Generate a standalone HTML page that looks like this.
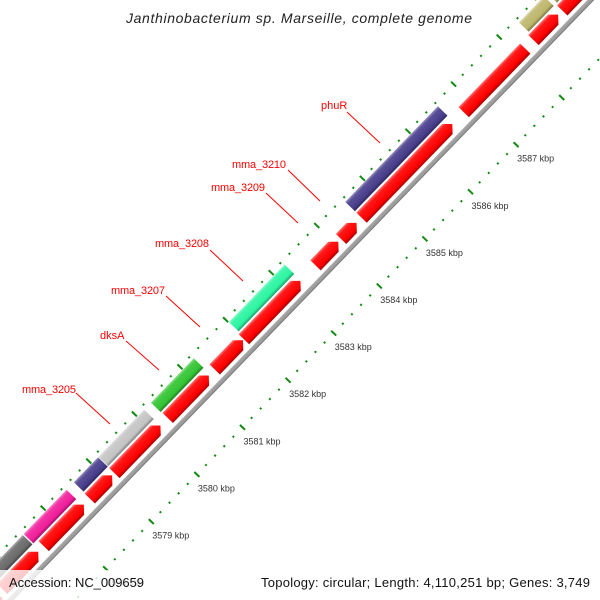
<!DOCTYPE html>
<html>
<head>
<meta charset="utf-8">
<style>
html,body{margin:0;padding:0;background:#fff;width:600px;height:600px;overflow:hidden;}
svg{display:block;font-family:"Liberation Sans",sans-serif;}
</style>
</head>
<body>
<svg id="map" width="600" height="600" viewBox="0 0 600 600" xmlns="http://www.w3.org/2000/svg">
  <defs id="defs"></defs>
  <rect width="600" height="600" fill="#fff"/>
  <g id="ring" transform="translate(379.3,286) rotate(-45.93)"></g>
  <g id="labels" fill="#ff0000" font-size="11">
    <line x1="347" y1="112" x2="380" y2="143" stroke="#ff0000" stroke-width="1"/>
    <text x="321" y="109">phuR</text>
    <line x1="288" y1="170" x2="320" y2="201" stroke="#ff0000" stroke-width="1"/>
    <text x="232" y="168" textLength="54">mma_3210</text>
    <line x1="266" y1="193" x2="298" y2="223" stroke="#ff0000" stroke-width="1"/>
    <text x="211" y="191" textLength="54">mma_3209</text>
    <line x1="210" y1="250" x2="243" y2="281" stroke="#ff0000" stroke-width="1"/>
    <text x="155" y="247" textLength="54">mma_3208</text>
    <line x1="166" y1="296" x2="200" y2="327" stroke="#ff0000" stroke-width="1"/>
    <text x="111" y="294" textLength="54">mma_3207</text>
    <line x1="126" y1="341" x2="159" y2="370" stroke="#ff0000" stroke-width="1"/>
    <text x="100" y="339">dksA</text>
    <line x1="76" y1="393" x2="110" y2="424" stroke="#ff0000" stroke-width="1"/>
    <text x="22" y="393" textLength="54">mma_3205</text>
  </g>
  <text x="299" y="23" text-anchor="middle" font-size="14" font-style="italic" fill="#222" textLength="346">Janthinobacterium sp. Marseille, complete genome</text>
  <rect x="0" y="570" width="150" height="30" fill="#fff" fill-opacity="0.8"/>
  <rect x="254" y="570" width="346" height="30" fill="#fff" fill-opacity="0.8"/>
  <text x="9" y="587" font-size="13" fill="#111" textLength="135">Accession: NC_009659</text>
  <text x="261" y="587" font-size="13" fill="#111" textLength="329">Topology: circular; Length: 4,110,251 bp; Genes: 3,749</text>
</svg>
<script>
// ---- data ----
const redStarts = [3576.68, 3577.59, 3578.60, 3579.14, 3580.31, 3581.34, 3581.98, 3583.55, 3584.11, 3584.56, 3586.80, 3588.33, 3588.96, 3575.8];
const redEnds   = [3577.47, 3578.47, 3579.09, 3580.15, 3581.21, 3581.96, 3583.22, 3584.05, 3584.45, 3586.55, 3588.15, 3588.87, 3590.40, 3576.58];
const redArrow  = [1, 1, 1, 1, 1, 1, 1, 1, 1, 1, 0, 1, 0, 0];
const cogStarts = [3576.00, 3576.73, 3577.51, 3578.61, 3579.15, 3580.30, 3582.01, 3584.56, 3588.37, 3588.99];
const cogEnds   = [3576.70, 3577.49, 3578.45, 3579.14, 3580.15, 3581.24, 3583.23, 3586.59, 3588.92, 3590.40];
const cogColors = ["#4a7fb5", "#6a6a6a", "#f01e9b", "#483d8b", "#c4c4c4", "#33c433", "#2cf5a2", "#483d8b", "#bdb76b", "#bdb76b"];
const tickMin = 3570;
const tickMax = 3592;
const tickLabels = ["3570 kbp","3571 kbp","3572 kbp","3573 kbp","3574 kbp","3575 kbp","3576 kbp","3577 kbp","3578 kbp","3579 kbp","3580 kbp","3581 kbp","3582 kbp","3583 kbp","3584 kbp","3585 kbp","3586 kbp","3587 kbp"];

// ---- axis ----
const NS = "http://www.w3.org/2000/svg";
const ORIGIN_KBP = 3584, PX_PER_KBP = 65.57;
const OX = 379.3, OY = 286, DX = 0.6955, DY = -0.7184;
function uScale(k){ return (k - ORIGIN_KBP) * PX_PER_KBP; }
function toAbs(u, v){ return [OX + DX*u - 0.7184*v, OY + DY*u - 0.6955*v]; }
const ring = document.getElementById('ring');
const defs = document.getElementById('defs');
const RED_V0 = 53, RED_V1 = 67.5, COG_V0 = 69.5, COG_V1 = 83, BB_V0 = 44.5, BB_V1 = 49.5;

function shade(hex, f){
  const n = parseInt(hex.slice(1),16); let r=n>>16,g=(n>>8)&255,b=n&255;
  if(f>=0){ r=r+(255-r)*f; g=g+(255-g)*f; b=b+(255-b)*f; } else { r*=1+f; g*=1+f; b*=1+f; }
  return "rgb("+Math.round(r)+","+Math.round(g)+","+Math.round(b)+")";
}
let gid = 0;
function grad(hex){
  const id = "g" + (gid++);
  const lg = document.createElementNS(NS,'linearGradient');
  lg.setAttribute('id', id); lg.setAttribute('x1','0'); lg.setAttribute('y1','0'); lg.setAttribute('x2','0'); lg.setAttribute('y2','1');
  [[0,shade(hex,0.45)],[0.2,shade(hex,0.1)],[0.75,hex],[1,shade(hex,-0.35)]].forEach(s=>{
    const st = document.createElementNS(NS,'stop');
    st.setAttribute('offset', s[0]); st.setAttribute('stop-color', s[1]); lg.appendChild(st);
  });
  defs.appendChild(lg);
  return "url(#" + id + ")";
}

// backbone
const bb = document.createElementNS(NS,'rect');


bb.setAttribute('x', uScale(tickMin)); bb.setAttribute('y', -BB_V1);
bb.setAttribute('width', uScale(tickMax) - uScale(tickMin)); bb.setAttribute('height', BB_V1 - BB_V0);
bb.setAttribute('fill', grad("#999999"));
ring.appendChild(bb);

// red features
const redFill = grad("#ff0000");
for(let i=0;i<redStarts.length;i++){
  const a = uScale(redStarts[i]), b = uScale(redEnds[i]);
  const y0 = -RED_V1, y1 = -RED_V0, ym = (y0+y1)/2;
  const p = document.createElementNS(NS,'polygon');
  
  
  let pts;
  if(redArrow[i]){
    const h = Math.min(7, (b-a)*0.5);
    pts = [[a,y0],[b-h,y0],[b,ym],[b-h,y1],[a,y1]];
  } else {
    pts = [[a,y0],[b,y0],[b,y1],[a,y1]];
  }
  p.setAttribute('points', pts.map(q=>q.join(',')).join(' '));
  p.setAttribute('fill', redFill);
  ring.appendChild(p);
}

// COG colored features
for(let i=0;i<cogStarts.length;i++){
  const a = uScale(cogStarts[i]), b = uScale(cogEnds[i]);
  const r = document.createElementNS(NS,'rect');
  
  
  r.setAttribute('x', a); r.setAttribute('y', -COG_V1);
  r.setAttribute('width', b-a); r.setAttribute('height', COG_V1-COG_V0);
  r.setAttribute('fill', grad(cogColors[i]));
  ring.appendChild(r);
}

// ticks
const TICK = "#118a11";
for(let k10 = tickMin*10; k10 <= tickMax*10; k10 += 2){
  const k = k10/10, u = uScale(k);
  const major = (k10 % 10 === 0);
  [0, 87].forEach(v=>{
    const t = document.createElementNS(NS,'rect');
    
    
    if(major){ t.setAttribute('x', u-1); t.setAttribute('y', -v-3.5); t.setAttribute('width', 2); t.setAttribute('height', 7); }
    else { t.setAttribute('x', u-1); t.setAttribute('y', -v-1); t.setAttribute('width', 2); t.setAttribute('height', 2); }
    t.setAttribute('fill', TICK);
    ring.appendChild(t);
  });
}
// tick labels
const svg = document.getElementById('map');
const labelsG = document.getElementById('labels');
tickLabels.forEach((lab, i)=>{
  const k = tickMin + i;
  const [x, y] = toAbs(uScale(k), 0);
  const t = document.createElementNS(NS,'text');
  
  
  t.setAttribute('x', x + 1); t.setAttribute('y', y + 17);
  t.setAttribute('font-size', '9'); t.setAttribute('fill', '#333');
  t.textContent = lab;
  svg.insertBefore(t, labelsG);
});
</script>
</body>
</html>
